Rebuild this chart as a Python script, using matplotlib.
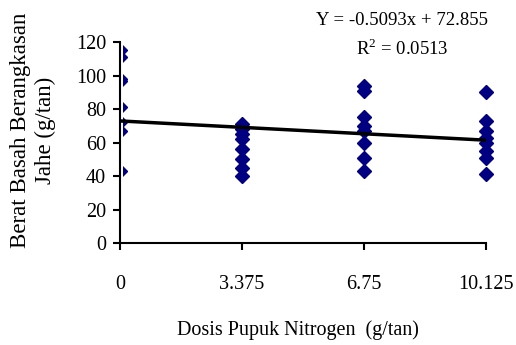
import numpy as np
import matplotlib.pyplot as plt
from matplotlib.patches import Rectangle

plt.rcParams['font.family'] = ['Liberation Serif', 'DejaVu Serif']
plt.rcParams['mathtext.fontset'] = 'custom'
plt.rcParams['mathtext.rm'] = 'Liberation Serif'

# dosis pupuk nitrogen (g/tan) dan berat basah berangkasan jahe (g/tan)
dosis = [0, 3.375, 6.75, 10.125]
berat_0 = [115, 111, 98, 97, 81, 72, 67, 43]
berat_1 = [71, 68, 65, 62, 56, 50, 45, 40]
berat_2 = [94, 91, 75, 70, 67, 60, 51, 43]
berat_3 = [90, 73, 67, 63, 60, 55, 51, 41]
groups = [berat_0, berat_1, berat_2, berat_3]

# garis trend seperti yang tergambar
trend_x = [0, 10.125]
trend_y = [72.9, 61.4]

xticks = [0, 3.375, 6.75, 10.125]
xtick_labels = ['0', '3.375', '6.75', '10.125']
yticks = [0, 20, 40, 60, 80, 100, 120]

fig = plt.figure(figsize=(5.16, 3.45), dpi=100)
ax = fig.add_axes([0.2326, 0.2957, 0.7094, 0.5823])

# markers on the y axis only show a thin sliver right of the axis line
clip = Rectangle((0.008, 0), 1.1, 1.1, transform=ax.transAxes, visible=False)
ax.add_patch(clip)

for x, ys in zip(dosis, groups):
    pts, = ax.plot([x] * len(ys), ys, linestyle='none', marker='D', markersize=7,
                   color='#000080', zorder=2)
    pts.set_clip_path(clip)

ax.plot(trend_x, trend_y, color='black', linewidth=2.5, zorder=3)

ax.set_xlim(0, 10.125)
ax.set_ylim(0, 120)
ax.set_xticks(xticks)
ax.set_xticklabels(xtick_labels)
ax.set_yticks(yticks)
ax.spines['top'].set_visible(False)
ax.spines['right'].set_visible(False)
ax.spines['left'].set_linewidth(1.5)
ax.spines['bottom'].set_linewidth(1.5)
ax.tick_params(axis='both', direction='out', length=5, width=1.5, labelsize=14.5)
ax.tick_params(axis='x', pad=18)
ax.tick_params(axis='y', pad=5)

ax.set_xlabel('Dosis Pupuk Nitrogen  (g/tan)', fontsize=14.5)
ax.xaxis.set_label_coords(0.485, -0.385)
fig.text(0.064, 0.623, 'Berat Basah Berangkasan\nJahe (g/tan)', fontsize=16.5,
         rotation=90, ha='center', va='center', linespacing=1.25)

fig.text(0.78, 0.94, 'Y = -0.5093x + 72.855', fontsize=13.5, ha='center', va='center')
fig.text(0.78, 0.86, 'R$^2$ = 0.0513', fontsize=13.5, ha='center', va='center')

plt.savefig('out.png', dpi=100)
